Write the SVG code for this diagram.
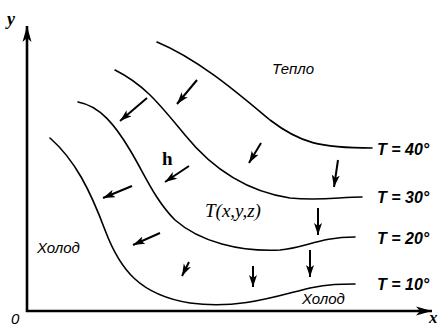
<svg xmlns="http://www.w3.org/2000/svg" width="448" height="327" viewBox="0 0 448 327">
<style>
.iso{fill:none;stroke:#000;stroke-width:1.6;stroke-linecap:round}
.ar{fill:none;stroke:#000;stroke-width:2;marker-end:url(#ah)}
.ax{fill:none;stroke:#000;stroke-width:2.6}
.lab{font-family:"Liberation Sans",Arial,sans-serif;font-style:italic;font-size:15px;fill:#000}
.tl{font-family:"Liberation Sans",Arial,sans-serif;font-style:italic;font-weight:bold;font-size:16px;fill:#000}
.ser{font-family:"Liberation Serif","Times New Roman",serif;fill:#000}
</style>
<defs>
<marker id="ah" markerUnits="userSpaceOnUse" markerWidth="14" markerHeight="10" refX="12" refY="4" orient="auto">
<path d="M0,0 L12,4 L0,8 L3,4 Z" fill="#000"/>
</marker>
<marker id="axh" markerUnits="userSpaceOnUse" markerWidth="18" markerHeight="10" refX="16" refY="5" orient="auto">
<path d="M0,0.5 L16,5 L0,9.5 L4,5 Z" fill="#000"/>
</marker>
</defs>
<g id="axes">
<line class="ax" x1="27" y1="312" x2="27" y2="26" marker-end="url(#axh)"/>
<line class="ax" x1="26" y1="311" x2="432" y2="311" marker-end="url(#axh)"/>
<text class="ser" x="7" y="25" font-size="18" font-style="italic" font-weight="bold">y</text>
<text class="ser" x="429" y="323" font-size="17" font-style="italic" font-weight="bold">x</text>
<text class="lab" x="11" y="324" font-size="14">0</text>
</g>
<g id="isotherm-40">
<path class="iso" d="M157,42 C200,60 240,95 270,120 C300,143 320,148 372,148"/>
<text class="tl" x="377" y="155">T = 40°</text>
</g>
<g id="isotherm-30">
<path class="iso" d="M115,70 C145,85 160,105 185,135 C215,172 250,192 290,198 C320,201 340,197 362,197"/>
<text class="tl" x="377" y="203">T = 30°</text>
</g>
<g id="isotherm-20">
<path class="iso" d="M78,102 C100,106 115,125 130,150 C145,175 155,200 175,220 C200,242 240,252 280,250 C305,248 320,237 355,237"/>
<text class="tl" x="377" y="244">T = 20°</text>
</g>
<g id="isotherm-10">
<path class="iso" d="M50,138 C75,160 90,190 105,230 C120,270 140,295 190,303 C240,310 280,295 310,288 C330,284 340,284 355,284"/>
<text class="tl" x="377" y="290">T = 10°</text>
</g>
<g id="labels">
<text class="lab" x="272" y="74">Тепло</text>
<text class="lab" x="37" y="253">Холод</text>
<text class="lab" x="302" y="304">Холод</text>
<text class="ser" x="205" y="217" font-size="19" font-style="italic">T(x,y,z)</text>
<text class="ser" x="162" y="165" font-size="19" font-weight="bold">h</text>
</g>
<g id="connectors">
<line class="ar" x1="197" y1="80" x2="177" y2="104"/>
<line class="ar" x1="147" y1="98" x2="120" y2="121"/>
<line class="ar" x1="132" y1="186" x2="103" y2="198"/>
<line class="ar" x1="189" y1="166" x2="165" y2="182"/>
<line class="ar" x1="261" y1="143" x2="249" y2="163"/>
<line class="ar" x1="338" y1="160" x2="334" y2="187"/>
<line class="ar" x1="318" y1="208" x2="318" y2="235"/>
<line class="ar" x1="310" y1="250" x2="310" y2="277"/>
<line class="ar" x1="160" y1="233" x2="133" y2="245"/>
<line class="ar" x1="189" y1="262" x2="182" y2="276"/>
<line class="ar" x1="253" y1="266" x2="253" y2="287"/>
</g>
</svg>
